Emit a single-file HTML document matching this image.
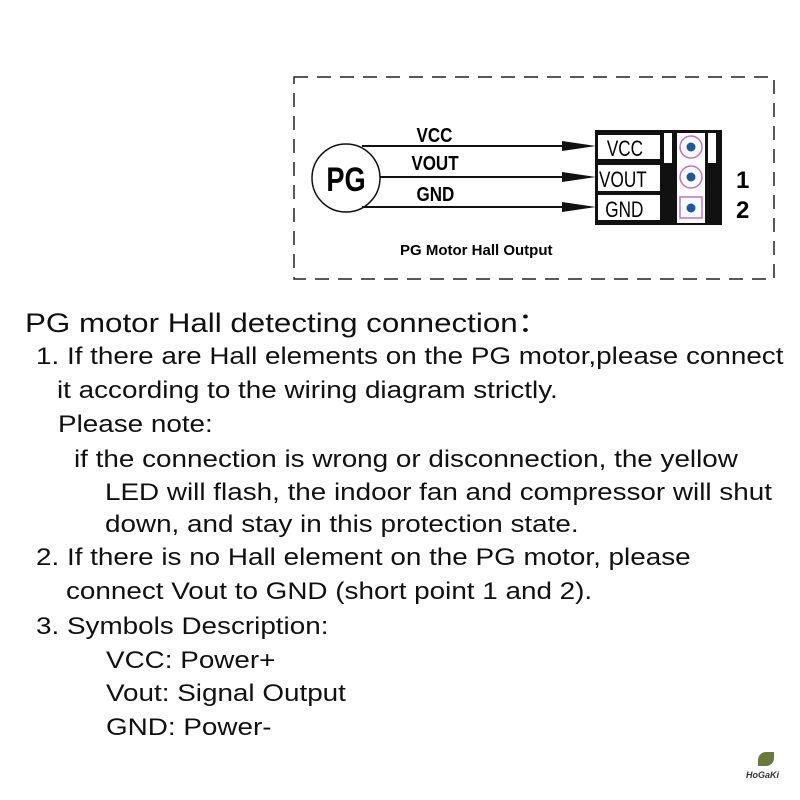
<!DOCTYPE html>
<html><head><style>
body{margin:0;width:800px;height:800px;background:#fff;position:relative;overflow:hidden;font-family:"Liberation Sans",Arial,sans-serif;color:#111}
.t{position:absolute;white-space:nowrap;font-size:24px;line-height:1;transform:scaleX(1.16);transform-origin:0 0}
</style></head><body>
<svg width="800" height="300" style="position:absolute;left:0;top:0" font-family="Liberation Sans, Arial, sans-serif">
<rect x="294" y="77" width="480" height="202" fill="none" stroke="#222" stroke-width="1.5" stroke-dasharray="14,9"/>
<circle cx="346" cy="178" r="34" fill="#fff" stroke="#111" stroke-width="1.5"/>
<text x="346" y="191" font-size="34" font-weight="bold" text-anchor="middle" transform="translate(346 0) scale(0.8 1) translate(-346 0)">PG</text>
<g stroke="#111" stroke-width="2"><line x1="362" y1="146" x2="570" y2="146"/><line x1="380" y1="177" x2="570" y2="177"/><line x1="362" y1="207" x2="570" y2="207"/></g>
<g fill="#111"><polygon points="562,141 596,146 562,151"/><polygon points="562,172 596,177 562,182"/><polygon points="562,202 596,207 562,212"/></g>
<g font-size="20" font-weight="bold" transform="scale(0.85 1)">
<text x="490" y="142">VCC</text><text x="484" y="170">VOUT</text><text x="490" y="201">GND</text></g>
<rect x="595" y="130" width="127" height="95" fill="#111"/>
<rect x="598" y="135" width="62" height="24" fill="#fff"/>
<rect x="598" y="165" width="62" height="26" fill="#fff"/>
<rect x="598" y="195" width="62" height="25" fill="#fff"/>
<rect x="664" y="133" width="8" height="30" fill="#fff"/>
<rect x="708" y="133" width="8" height="30" fill="#fff"/>
<rect x="677" y="133" width="28" height="90" fill="#fff"/>
<g font-size="22" transform="scale(0.78 1)"><text x="778" y="156">VCC</text><text x="768" y="187">VOUT</text><text x="776" y="217">GND</text></g>
<circle cx="691" cy="147" r="11" fill="none" stroke="#c070d0" stroke-width="1.5"/>
<circle cx="691" cy="177" r="11" fill="none" stroke="#c070d0" stroke-width="1.5"/>
<rect x="680" y="197" width="22" height="21" fill="none" stroke="#c070d0" stroke-width="1.5"/>
<g fill="#1a5aa8"><circle cx="691" cy="147" r="4.5"/><circle cx="691" cy="177" r="4.5"/><circle cx="691" cy="208" r="4.5"/></g>
<text x="736" y="188" font-size="24" font-weight="bold">1</text><text x="736" y="218" font-size="24" font-weight="bold">2</text>
<text x="400" y="255" font-size="15" font-weight="bold">PG Motor Hall Output</text>
</svg>
<div class="t" style="left:25px;top:310px;font-size:27px">PG motor Hall detecting connection：</div>
<div class="t" style="left:36px;top:345px">1. If there are Hall elements on the PG motor,please connect</div>
<div class="t" style="left:57px;top:379px">it according to the wiring diagram strictly.</div>
<div class="t" style="left:58px;top:413px">Please note:</div>
<div class="t" style="left:74px;top:448px">if the connection is wrong or disconnection, the yellow</div>
<div class="t" style="left:105px;top:481px">LED will flash, the indoor fan and compressor will shut</div>
<div class="t" style="left:105px;top:513px">down, and stay in this protection state.</div>
<div class="t" style="left:36px;top:546px">2. If there is no Hall element on the PG motor, please</div>
<div class="t" style="left:66px;top:580px">connect Vout to GND (short point 1 and 2).</div>
<div class="t" style="left:36px;top:615px">3. Symbols Description:</div>
<div class="t" style="left:106px;top:649px">VCC: Power+</div>
<div class="t" style="left:106px;top:682px">Vout: Signal Output</div>
<div class="t" style="left:106px;top:716px">GND: Power-</div>
<div style="position:absolute;left:746px;top:770px;font-size:9px;font-weight:bold;font-style:italic;color:#333;white-space:nowrap">HoGaKi</div>
<div style="position:absolute;left:758px;top:752px;width:16px;height:14px;background:#6b7a3a;border-radius:8px 0 8px 0"></div>
</body></html>
